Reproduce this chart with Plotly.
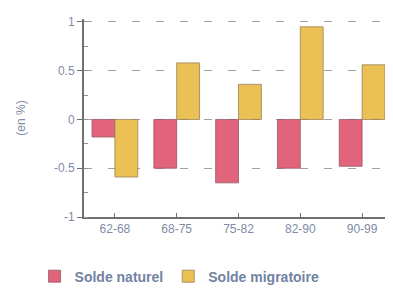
import plotly.graph_objects as go

periods = ["62-68", "68-75", "75-82", "82-90", "90-99"]
solde_naturel = [-0.18, -0.5, -0.65, -0.5, -0.48]
solde_migratoire = [-0.59, 0.58, 0.36, 0.95, 0.56]
y_ticks = [-1, -0.5, 0, 0.5, 1]
y_tick_labels = ["-1", "-0.5", "0", "0.5", "1"]

fig = go.Figure()
fig.add_trace(go.Bar(
    x=periods, y=solde_naturel, name="Solde naturel",
    marker=dict(color="#E2637C", line=dict(color="rgba(150,90,100,0.8)", width=1)),
))
fig.add_trace(go.Bar(
    x=periods, y=solde_migratoire, name="Solde migratoire",
    marker=dict(color="#EBC054", line=dict(color="rgba(150,130,90,0.8)", width=1)),
))

fig.update_layout(
    width=393, height=293,
    margin=dict(l=76, r=8, t=11, b=73),
    paper_bgcolor="white", plot_bgcolor="white",
    barmode="group", bargap=0.26, bargroupgap=0,
    font=dict(family="Liberation Sans, Arial", color="#7F8BA6", size=12),
    showlegend=True,
    legend=dict(orientation="h", x=-0.16, xanchor="left", y=-0.22, yanchor="top",
                font=dict(size=14, color="#7382A2", weight="bold"), itemwidth=30,
                traceorder="normal"),
    xaxis=dict(
        showline=True, linecolor="#707070", linewidth=2,
        ticks="inside", ticklen=4, tickcolor="#707070",
        showgrid=False, range=[-0.5, 4.5],
        tickfont=dict(size=12, color="#7F8BA6"),
    ),
    yaxis=dict(
        range=[-1, 1.03], tickvals=y_ticks, ticktext=y_tick_labels,
        showline=True, linecolor="#707070", linewidth=2,
        ticks="outside", ticklen=5, tickcolor="#707070",
        showgrid=True, gridcolor="#A0A0A0", griddash="8px,16px", gridwidth=1,
        zeroline=False,
        minor=dict(dtick=0.25, ticks="inside", ticklen=4, tickcolor="#909090", showgrid=False),
        title=dict(text="(en %)", font=dict(size=12, color="#7F8BA6"), standoff=26),
        tickfont=dict(size=12, color="#7F8BA6"),
    ),
)

fig.write_html("out.html")
